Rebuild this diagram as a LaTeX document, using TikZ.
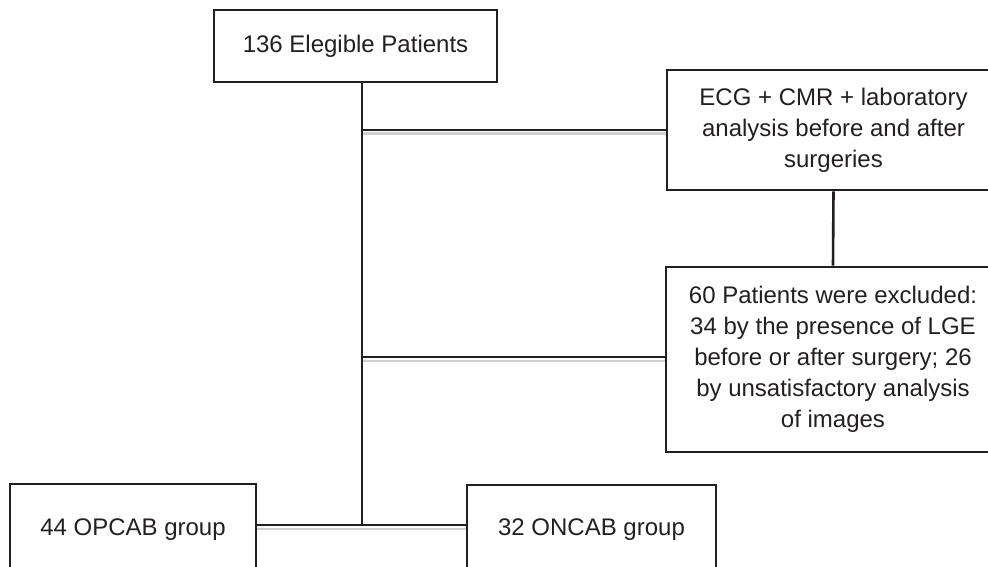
\documentclass[tikz,border=0pt]{standalone}
\usepackage{fontspec}
\setmainfont{Liberation Sans}
\definecolor{ink}{HTML}{231F20}
\definecolor{shade}{HTML}{D0D0D0}
\begin{document}
\begin{tikzpicture}[x=1pt,y=-1pt,
  box/.style={draw=ink,line width=2.6pt,rectangle,inner sep=0pt,align=center,
    text=ink,font=\fontsize{24}{31}\selectfont},
  conn/.style={draw=ink,line width=2.6pt},
  shadeline/.style={draw=shade,line width=2.2pt}]
\useasboundingbox (0,0) rectangle (988,567);
\clip (0,0) rectangle (988,567);
\node[box,minimum width=283pt,minimum height=72pt] (top) at (355.5,46) {136 Elegible Patients};
\node[box,minimum width=333pt,minimum height=120pt] (ecg) at (833.5,130)
  {ECG + CMR + laboratory\\analysis before and after\\surgeries};
\node[box,minimum width=334pt,minimum height=185pt] (excl) at (833,359.5)
  {60 Patients were excluded:\\34 by the presence of LGE\\before or after surgery; 26\\by unsatisfactory analysis\\of images};
\node[box,minimum width=246pt,minimum height=92pt] (opcab) at (133,530) {44 OPCAB group};
\node[box,minimum width=249pt,minimum height=90pt] (oncab) at (591.5,530) {32 ONCAB group};
\coordinate (j1) at (362,130);
\coordinate (j2) at (362,357);
\coordinate (j3) at (362,525);
% shadows
\draw[shadeline] ([yshift=-3.6pt]j1) -- ([yshift=-3.6pt]ecg.west |- j1);
\draw[shadeline] ([yshift=-3.6pt]j2) -- ([yshift=-3.6pt]excl.west |- j2);
\draw[shadeline] ([yshift=-3.6pt]opcab.east |- j3) -- ([yshift=-3.6pt]oncab.west |- j3);
% connectors
\draw[conn] (top.south -| j3) -- (j3);
\draw[conn] (j1) -- (ecg.west |- j1);
\draw[conn] (j2) -- (excl.west |- j2);
\draw[conn] (opcab.east |- j3) -- (oncab.west |- j3);
\draw[conn] (ecg.south) -- (excl.north);
\end{tikzpicture}
\end{document}
